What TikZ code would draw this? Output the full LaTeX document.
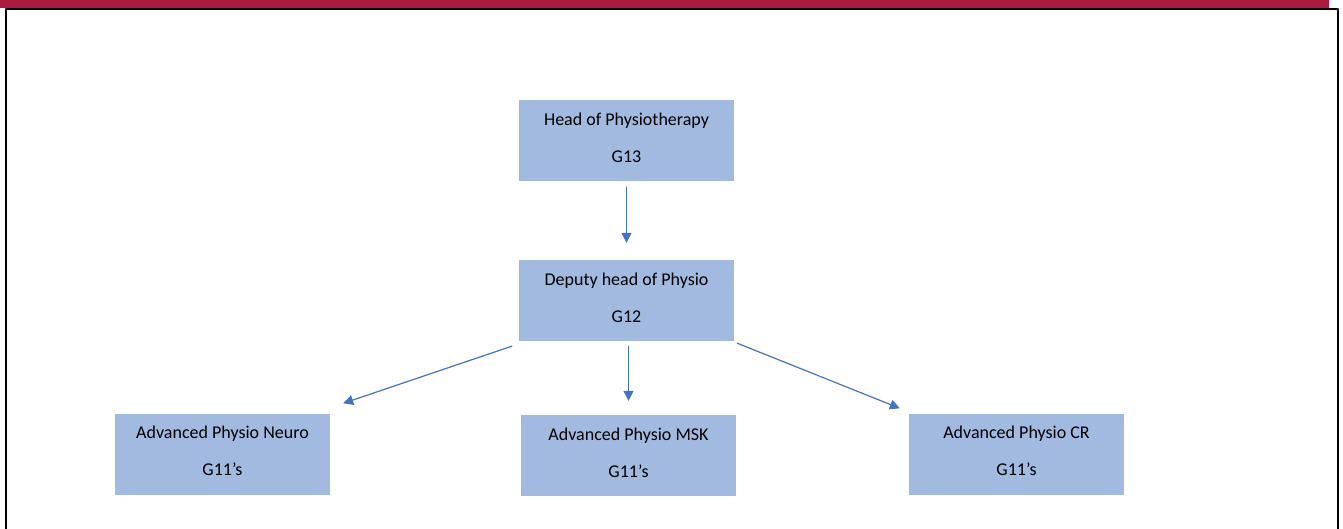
\documentclass[tikz,border=0pt]{standalone}
\usepackage{fontspec}
\setmainfont{Carlito}
\usetikzlibrary{arrows.meta,calc}
\definecolor{boxblue}{RGB}{162,185,224}
\definecolor{lineblue}{RGB}{68,114,196}
\definecolor{barred}{RGB}{171,27,62}
\begin{document}
\begin{tikzpicture}[x=1pt,y=-1pt,line cap=round,line join=round,font=\fontsize{18}{37}\selectfont]
	\tikzset{post/.style={fill=boxblue,minimum width=215pt,minimum height=81pt,align=center,inner sep=0pt,
			execute at end node={\rule[-6pt]{0pt}{0pt}}},
		link/.style={draw=lineblue,line width=1.2pt,-{Triangle[length=10pt,width=10pt]}}}
	\useasboundingbox (0,0) rectangle (1343,529);
	\fill[barred] (0,0) rectangle (1329,8);
	\draw[line width=2.5pt,line cap=butt] (6,529) -- (6,9) -- (1338,9) -- (1338,529);
	\node[post] (head) at (626.5,140.5) {Head of Physiotherapy\\G13};
	\node[post] (deputy) at (626.5,300.5) {Deputy head of Physio\\G12};
	\foreach \n/\x/\y/\t in {neuro/222.5/454/Neuro,msk/628.5/455.5/MSK,cr/1016.5/454/CR}{\node[post] (\n) at (\x,\y) {Advanced Physio \t\\G11’s};}
	\coordinate (dl) at ($(deputy.south west)+(-7,5)$);
	\coordinate (nl) at ($(neuro.north east)+(13,-10)$);
	\coordinate (dr) at ($(deputy.south east)+(3,2)$);
	\coordinate (cl) at ($(cr.north west)+(-9,-5)$);
	\draw[link,shorten <=6pt,shorten >=17pt] (head) -- (deputy);
	\draw[link,shorten <=5pt,shorten >=14pt] (deputy.south -| msk.north) -- (msk.north);
	\draw[link] (dl) -- (nl);
	\draw[link] (dr) -- (cl);
\end{tikzpicture}
\end{document}
